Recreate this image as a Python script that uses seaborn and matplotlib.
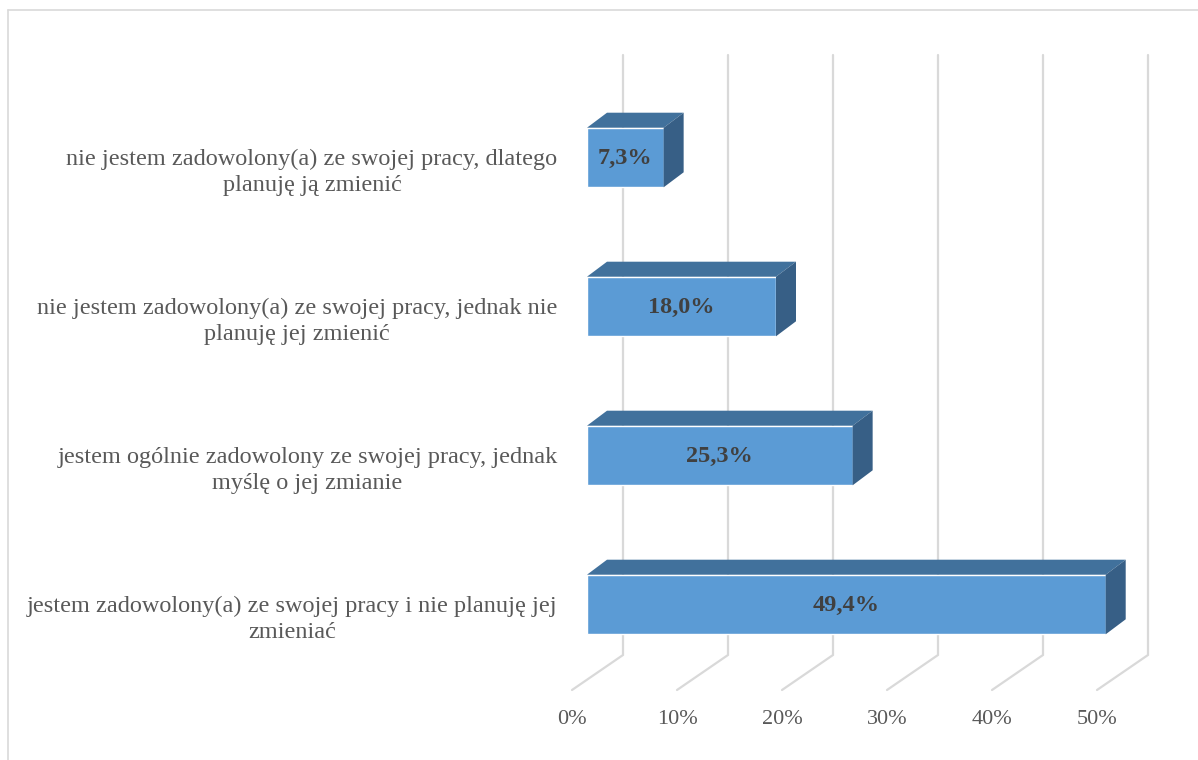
import matplotlib.pyplot as plt
import pandas as pd
import seaborn as sns
from matplotlib.patches import Polygon
from matplotlib.lines import Line2D

# data
categories = ['nie jestem zadowolony(a) ze swojej pracy, dlatego\nplanuję ją zmienić',
              'nie jestem zadowolony(a) ze swojej pracy, jednak nie\nplanuję jej zmienić',
              'jestem ogólnie zadowolony ze swojej pracy, jednak\nmyślę o jej zmianie',
              'jestem zadowolony(a) ze swojej pracy i nie planuję jej\nzmieniać']
values = [7.3, 18.0, 25.3, 49.4]
ticks = [0, 10, 20, 30, 40, 50]
tick_labels = ['0%', '10%', '20%', '30%', '40%', '50%']

df = pd.DataFrame({'category': categories, 'value': values})

sns.set_style('white')
plt.rcParams['font.family'] = ['Liberation Serif', 'DejaVu Serif']

fig = plt.figure(figsize=(11.98, 7.6), dpi=100)
ax = fig.add_axes([560 / 1198, 20 / 760, 620 / 1198, 700 / 760])

front = '#5b9bd5'
top_c = '#41719c'
side_c = '#375f86'
grid_c = '#d9d9d9'

sns.barplot(data=df, x='value', y='category', orient='h', width=0.4,
            color=front, saturation=1, ax=ax, zorder=3)

# pixel based 3d offsets: 10.5 px per %, 149 px per category
px_x = 1 / 10.5
px_y = 1 / 149
dx, dy = 20 * px_x, -15 * px_y          # bar depth
wx, wy = 36 * px_x, -25 * px_y          # back wall from bar front
fx, fy = -15 * px_x, 10 * px_y          # floor front from bar front

ax.set_xlim((560 - 587) * px_x, (1180 - 587) * px_x)
ax.set_ylim((740 - 157.5) * px_y, (40 - 157.5) * px_y)

# back wall + floor gridlines
wall_top = (55 - 157.5) * px_y
floor_y = 3 + (680 - 604.5) * px_y
for t in ticks:
    ax.plot([t + wx, t + wx, t + fx], [wall_top, floor_y + wy, floor_y + fy],
            color=grid_c, lw=1.6, zorder=1, solid_joinstyle='miter')

# 3d faces for each bar
for p, v in zip(ax.patches, values):
    y0 = p.get_y()
    y1 = y0 + p.get_height()
    yt = min(y0, y1)
    yb = max(y0, y1)
    ax.add_patch(Polygon([(0, yt), (v, yt), (v + dx, yt + dy), (dx, yt + dy)],
                         closed=True, facecolor=top_c, edgecolor='none', zorder=3))
    ax.add_patch(Polygon([(v, yt), (v, yb), (v + dx, yb + dy), (v + dx, yt + dy)],
                         closed=True, facecolor=side_c, edgecolor='none', zorder=3))
    ax.text(v / 2, (yt + yb) / 2 + 1 * px_y, f'{v:.1f}%'.replace('.', ','), ha='center', va='center',
            fontsize=17.5, fontweight='bold', color='#404040', zorder=5)

# category labels
for i, c in enumerate(categories):
    ax.text(-0.004, i + 15 * px_y, c, transform=ax.get_yaxis_transform(),
            ha='right', va='center', multialignment='center', fontsize=17.5,
            color='#595959', linespacing=1.27)

# value axis labels
for t, lab in zip(ticks, tick_labels):
    ax.text(t + fx, (720 - 157.5) * px_y, lab, ha='center', va='center',
            fontsize=16, color='#595959')

ax.set_xticks([])
ax.set_yticks([])
ax.set_xlabel('')
ax.set_ylabel('')
sns.despine(ax=ax, left=True, bottom=True)
ax.patch.set_alpha(0)

# chart border
fig.add_artist(Line2D([7.5 / 1198, 7.5 / 1198], [0, 1 - 9.5 / 760], color='#d9d9d9', lw=1.2))
fig.add_artist(Line2D([7.5 / 1198, 1], [1 - 9.5 / 760, 1 - 9.5 / 760], color='#d9d9d9', lw=1.2))

fig.savefig('out.png', dpi=100)
